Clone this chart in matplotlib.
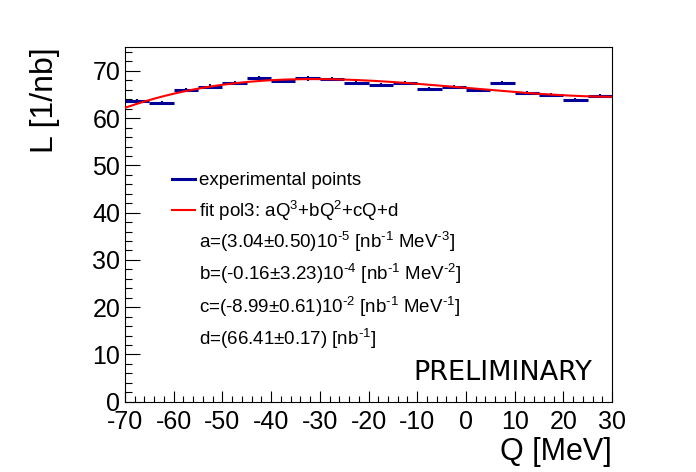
import numpy as np
import matplotlib
matplotlib.use("Agg")
import matplotlib.pyplot as plt
from matplotlib.lines import Line2D
from matplotlib.ticker import MultipleLocator

plt.rcParams["font.family"] = ["Liberation Sans", "DejaVu Sans"]
plt.rcParams["mathtext.fontset"] = "custom"
plt.rcParams["mathtext.rm"] = "Liberation Sans"
plt.rcParams["mathtext.it"] = "Liberation Sans:italic"
plt.rcParams["mathtext.default"] = "regular"
plt.rcParams["axes.unicode_minus"] = False

# ---- data ----
q_centers = [-67.5, -62.5, -57.5, -52.5, -47.5, -42.5, -37.5, -32.5, -27.5, -22.5,
             -17.5, -12.5, -7.5, -2.5, 2.5, 7.5, 12.5, 17.5, 22.5, 27.5]
lumi = [63.6, 63.2, 65.9, 66.7, 67.4, 68.4, 67.9, 68.4, 68.3, 67.4,
        67.0, 67.4, 66.1, 66.6, 65.9, 67.4, 65.4, 64.9, 63.8, 64.7]
lumi_err = [0.45] * 20
bin_half = 2.5

# pol3 fit parameters as printed on the chart
fit_a = 3.04e-5
fit_b = -0.16e-4
fit_c = -8.99e-2
fit_d = 66.41

W, H = 696, 472
BLUE = "#000099"
RED = "#ff0000"

fig = plt.figure(figsize=(W / 100, H / 100), dpi=100)
ax = fig.add_axes([125 / W, (H - 401.7) / H, (612 - 125) / W, (401.7 - 47.3) / H])

# horizontal bin bars
ax.errorbar(q_centers, lumi, xerr=bin_half, fmt="none", ecolor=BLUE,
            elinewidth=2.2, capsize=0, zorder=2)
# vertical stat errors
ax.errorbar(q_centers, lumi, yerr=lumi_err, fmt="none", ecolor=BLUE,
            elinewidth=1.5, capsize=0, zorder=2)

# fit curve
qq = np.linspace(-70, 30, 400)
ax.plot(qq, np.polyval([fit_a, fit_b, fit_c, fit_d], qq), color=RED, lw=1.5, zorder=3)

ax.set_xlim(-70, 30)
ax.set_ylim(0, 75)
ax.xaxis.set_major_locator(MultipleLocator(10))
ax.xaxis.set_minor_locator(MultipleLocator(2))
ax.yaxis.set_major_locator(MultipleLocator(10))
ax.yaxis.set_minor_locator(MultipleLocator(2))
ax.tick_params(axis="x", which="major", direction="in", length=8, width=0.8,
               labelsize=18, pad=6)
ax.tick_params(axis="x", which="minor", direction="in", length=4, width=0.8)
ax.tick_params(axis="y", which="major", direction="in", length=10.5, width=0.8,
               labelsize=18, pad=3.5)
ax.tick_params(axis="y", which="minor", direction="in", length=5.3, width=0.8)
for s in ax.spines.values():
    s.set_linewidth(0.8)

ax.set_xlabel("Q [MeV]", fontsize=22, loc="right")
ax.xaxis.set_label_coords(1.0, -0.100)
ax.set_ylabel("L [1/nb]", fontsize=23, loc="top")
ax.yaxis.set_label_coords(-0.134, 1.0)

# legend drawn by hand (ROOT style)
def px(x, y):
    return x / W, 1 - y / H

fig.add_artist(Line2D([172 / W, 195 / W], [1 - 179 / H] * 2, color=BLUE, lw=2.2))
fig.add_artist(Line2D([172 / W, 195 / W], [1 - 210 / H] * 2, color=RED, lw=1.5))

legend_lines = [
    "experimental points",
    "fit pol3: aQ$^{3}$+bQ$^{2}$+cQ+d",
    "a=(3.04$\\pm$0.50)10$^{\\text{-}5}$ [nb$^{\\text{-}1}$ MeV$^{\\text{-}3}$]",
    "b=(-0.16$\\pm$3.23)10$^{\\text{-}4}$ [nb$^{\\text{-}1}$ MeV$^{\\text{-}2}$]",
    "c=(-8.99$\\pm$0.61)10$^{\\text{-}2}$ [nb$^{\\text{-}1}$ MeV$^{\\text{-}1}$]",
    "d=(66.41$\\pm$0.17) [nb$^{\\text{-}1}$]",
]
baselines = [185, 216.7, 248.3, 280, 312.7, 345]
for txt, yb in zip(legend_lines, baselines):
    fig.text(*px(199, yb), txt, fontsize=13.5, ha="left", va="baseline")

fig.text(*px(413, 380), "PRELIMINARY", fontsize=19.5, family="DejaVu Sans",
         ha="left", va="baseline")

fig.savefig("out.png", dpi=100)
